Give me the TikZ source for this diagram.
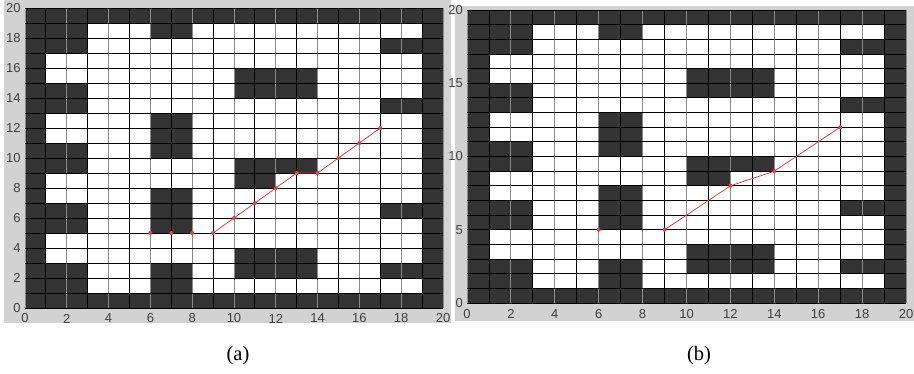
\documentclass[tikz,border=0pt]{standalone}
\usepackage{fontspec}
\setmainfont{Liberation Serif}
\newfontfamily\ticksf{Liberation Sans}
\definecolor{bgc}{HTML}{D2D2D2}
\definecolor{cellc}{HTML}{333333}
\definecolor{tickc}{HTML}{404040}
\definecolor{evenc}{HTML}{8A8A8A}
\definecolor{pathc}{HTML}{F03C3C}
\tikzset{
  hline/.style={black, line width=0.9pt},
  vodd/.style={black, line width=0.9pt},
  veven/.style={evenc, line width=1pt},
  ticklab/.style={text=tickc, font=\ticksf\fontsize{13}{15}\selectfont, inner sep=0pt},
  caplab/.style={font=\fontsize{20.5}{24}\selectfont, inner sep=0pt},
  redpath/.style={pathc, line width=0.8pt},
  reddot/.style={pathc},
}
\newcommand{\mygridpanel}{%
  \fill[white] (0,0) rectangle (20,20);
  \fill[cellc] (0,0) rectangle (20,1) (0,19) rectangle (20,20)
     (0,0) rectangle (1,20) (19,0) rectangle (20,20)
     (1,1) rectangle (3,3) (1,5) rectangle (3,7) (1,9) rectangle (3,11)
     (1,13) rectangle (3,15) (1,17) rectangle (3,19)
     (6,1) rectangle (8,3) (6,5) rectangle (8,8) (6,10) rectangle (8,13)
     (6,18) rectangle (8,19)
     (10,2) rectangle (14,4) (10,14) rectangle (14,16) (10,9) rectangle (14,10)
     (10,8) rectangle (12,9)
     (17,2) rectangle (19,3) (17,6) rectangle (19,7) (17,13) rectangle (19,14)
     (17,17) rectangle (19,18);
  \foreach \i in {0,2,...,20} \draw[veven] (\i,0) -- (\i,20);
  \foreach \i in {1,3,...,19} \draw[vodd] (\i,0) -- (\i,20);
  \foreach \i in {0,...,20} \draw[hline] (0,\i) -- (20,\i);
}
\begin{document}
\begin{tikzpicture}[x=1pt,y=1pt]
\useasboundingbox (0,0) rectangle (914,-373);
\fill[white] (0,0) rectangle (914,-373);
\fill[bgc] (4,0) rectangle (451,-323);
\fill[bgc] (455,-6) rectangle (914,-321);

% panel (a)
\begin{scope}[shift={(25pt,-308pt)}, x=20.9pt, y=15pt]
  \mygridpanel
  \foreach \i in {0,2,...,20} {
    \node[ticklab, anchor=east] (ay\i) at (-0.2,\i) {\i};
    \node[ticklab] (ax\i) at (\i,-0.7) {\i};
  }
  \coordinate (pa1) at (6,5);
  \coordinate (pa2) at (7,5);
  \coordinate (pa3) at (8,5);
  \coordinate (pa4) at (9,5);
  \coordinate (pa5) at (10,6);
  \coordinate (pa6) at (11,7);
  \coordinate (pa7) at (12,8);
  \coordinate (pa8) at (13,9);
  \coordinate (pa9) at (14,9);
  \coordinate (pa10) at (15,10);
  \coordinate (pa11) at (16,11);
  \coordinate (pa12) at (17,12);
  \draw[redpath] (pa4) -- (pa5) -- (pa6) -- (pa7) -- (pa8) -- (pa9) -- (pa10) -- (pa11) -- (pa12);
  \foreach \k in {1,...,12} \fill[reddot] (pa\k) circle (2pt);
\end{scope}

% panel (b)
\begin{scope}[shift={(467pt,-303pt)}, x=21.95pt, y=14.65pt]
  \mygridpanel
  \foreach \i in {0,5,...,20} {
    \node[ticklab, anchor=east] (by\i) at (-0.18,\i) {\i};
  }
  \foreach \i in {0,2,...,20} {
    \node[ticklab] (bx\i) at (\i,-0.78) {\i};
  }
  \coordinate (pb1) at (6,5);
  \coordinate (pb2) at (9,5);
  \coordinate (pb3) at (12,8);
  \coordinate (pb4) at (14,9);
  \coordinate (pb5) at (17,12);
  \draw[redpath] (pb2) -- (pb3) -- (pb4) -- (pb5);
  \foreach \k in {1,...,5} \fill[reddot] (pb\k) circle (2pt);
\end{scope}

\node[caplab] (capa) at (238,-356) {(a)};
\node[caplab] (capb) at (699,-356) {(b)};
\end{tikzpicture}
\end{document}
